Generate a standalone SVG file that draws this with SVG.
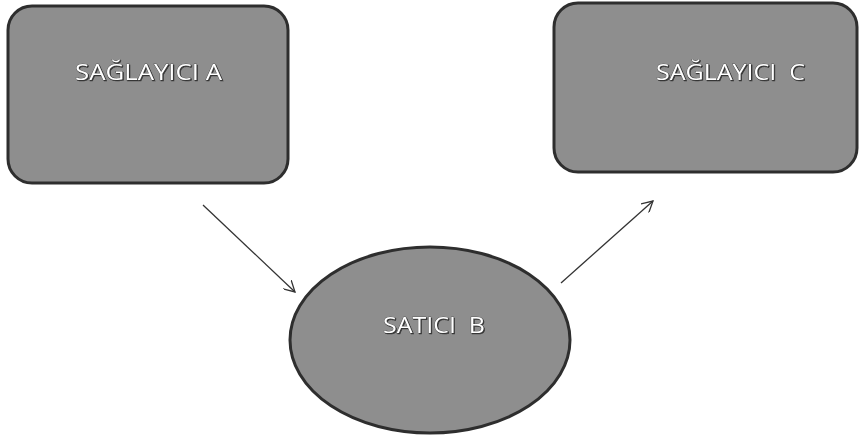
<svg xmlns="http://www.w3.org/2000/svg" width="859" height="439" viewBox="0 0 859 439">
  <style>
    .shape { fill: #8e8e8e; stroke: #2e2e2e; stroke-width: 3; }
    .label { font-family: "Open Sans", "Liberation Sans", sans-serif; font-size: 21px; fill: #ffffff; stroke: #333333; stroke-width: 0.6; paint-order: stroke; white-space: pre; }
    .link { stroke: #333333; stroke-width: 1.3; fill: none; marker-end: url(#arrow); }
  </style>
  <defs>
    <marker id="arrow" viewBox="0 0 12 12" refX="11" refY="6" markerWidth="12" markerHeight="12" markerUnits="userSpaceOnUse" orient="auto">
      <path d="M0,0 L11,6 L0,12" fill="none" stroke="#333333" stroke-width="1.3"/>
    </marker>
    <filter id="shadow" x="-10%" y="-10%" width="120%" height="120%">
      <feDropShadow dx="1" dy="1" stdDeviation="0.6" flood-color="#222222" flood-opacity="0.8"/>
    </filter>
  </defs>
  <rect width="859" height="439" fill="#ffffff"/>

  <g id="saglayici-a">
    <rect class="shape" x="8" y="6" width="280" height="177" rx="24" ry="24"/>
    <text class="label" x="75" y="80" textLength="147" lengthAdjust="spacingAndGlyphs" filter="url(#shadow)">SAĞLAYICI A</text>
  </g>

  <g id="saglayici-c">
    <rect class="shape" x="554" y="3" width="303" height="169" rx="24" ry="24"/>
    <text class="label" x="656" y="80" textLength="149" lengthAdjust="spacingAndGlyphs" filter="url(#shadow)" xml:space="preserve">SAĞLAYICI  C</text>
  </g>

  <g id="satici-b">
    <ellipse class="shape" cx="430" cy="340" rx="140" ry="93"/>
    <text class="label" x="383" y="333" textLength="102" lengthAdjust="spacingAndGlyphs" filter="url(#shadow)" xml:space="preserve">SATICI  B</text>
  </g>

  <g id="connectors">
    <line class="link" x1="203" y1="205" x2="295" y2="292"/>
    <line class="link" x1="561" y1="283" x2="653" y2="201"/>
  </g>
</svg>
